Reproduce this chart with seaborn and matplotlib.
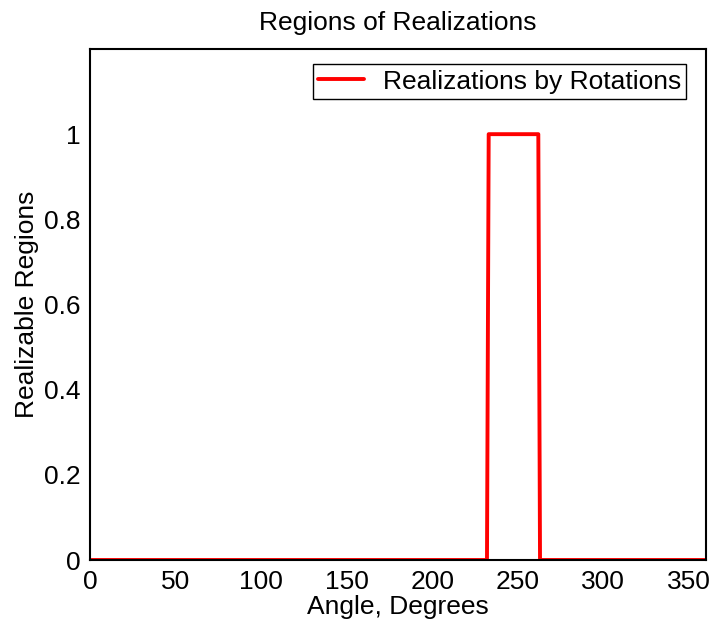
import numpy as np
import pandas as pd
import matplotlib
matplotlib.use("Agg")
import matplotlib.pyplot as plt
import seaborn as sns

# Data
angles = list(range(0, 361))
pulse_start = 233
pulse_end = 262
regions = [1 if pulse_start <= a <= pulse_end else 0 for a in angles]
series_label = "Realizations by Rotations"
x_ticks = [0, 50, 100, 150, 200, 250, 300, 350]
y_ticks = [0, 0.2, 0.4, 0.6, 0.8, 1]
y_tick_labels = ["0", "0.2", "0.4", "0.6", "0.8", "1"]

df = pd.DataFrame({"Angle": angles, "Region": regions})

sns.set_style("white")
plt.rcParams['font.family'] = ['Liberation Sans', 'DejaVu Sans']
plt.rcParams['text.color'] = 'black'
plt.rcParams['axes.labelcolor'] = 'black'

FS = 19

fig = plt.figure(figsize=(7.12, 6.24), dpi=100)
ax = fig.add_axes([90/712, 64/624, 616/712, 511/624])

sns.lineplot(data=df, x="Angle", y="Region", ax=ax, color="#ff0000",
             linewidth=2.8, label=series_label)

ax.set_xlim(0, 360)
ax.set_ylim(0, 1.2)
ax.set_xticks(x_ticks)
ax.set_xticklabels([str(t) for t in x_ticks])
ax.set_yticks(y_ticks)
ax.set_yticklabels(y_tick_labels)
ax.tick_params(axis='both', direction='in', length=6, width=1, labelsize=FS,
               top=False, right=False, color='black', labelcolor='black')
ax.tick_params(axis='x', pad=7)
ax.tick_params(axis='y', pad=7)
for s in ax.spines.values():
    s.set_color('black')
    s.set_linewidth(1.5)

ax.set_title("Regions of Realizations", fontsize=FS, pad=14, color='black')
ax.set_xlabel("Angle, Degrees", fontsize=FS, labelpad=1, color='black')
ax.set_ylabel("Realizable Regions", fontsize=FS, labelpad=3, color='black')

leg = ax.legend(loc="upper right", fontsize=FS, frameon=True, fancybox=False,
                edgecolor='black', framealpha=1, borderpad=0.2,
                handlelength=1.75, handletextpad=0.7, borderaxespad=0,
                bbox_to_anchor=(0.968, 0.97))
leg.get_frame().set_linewidth(1.0)
for t in leg.get_texts():
    t.set_color('black')

fig.savefig("out.png", dpi=100)
